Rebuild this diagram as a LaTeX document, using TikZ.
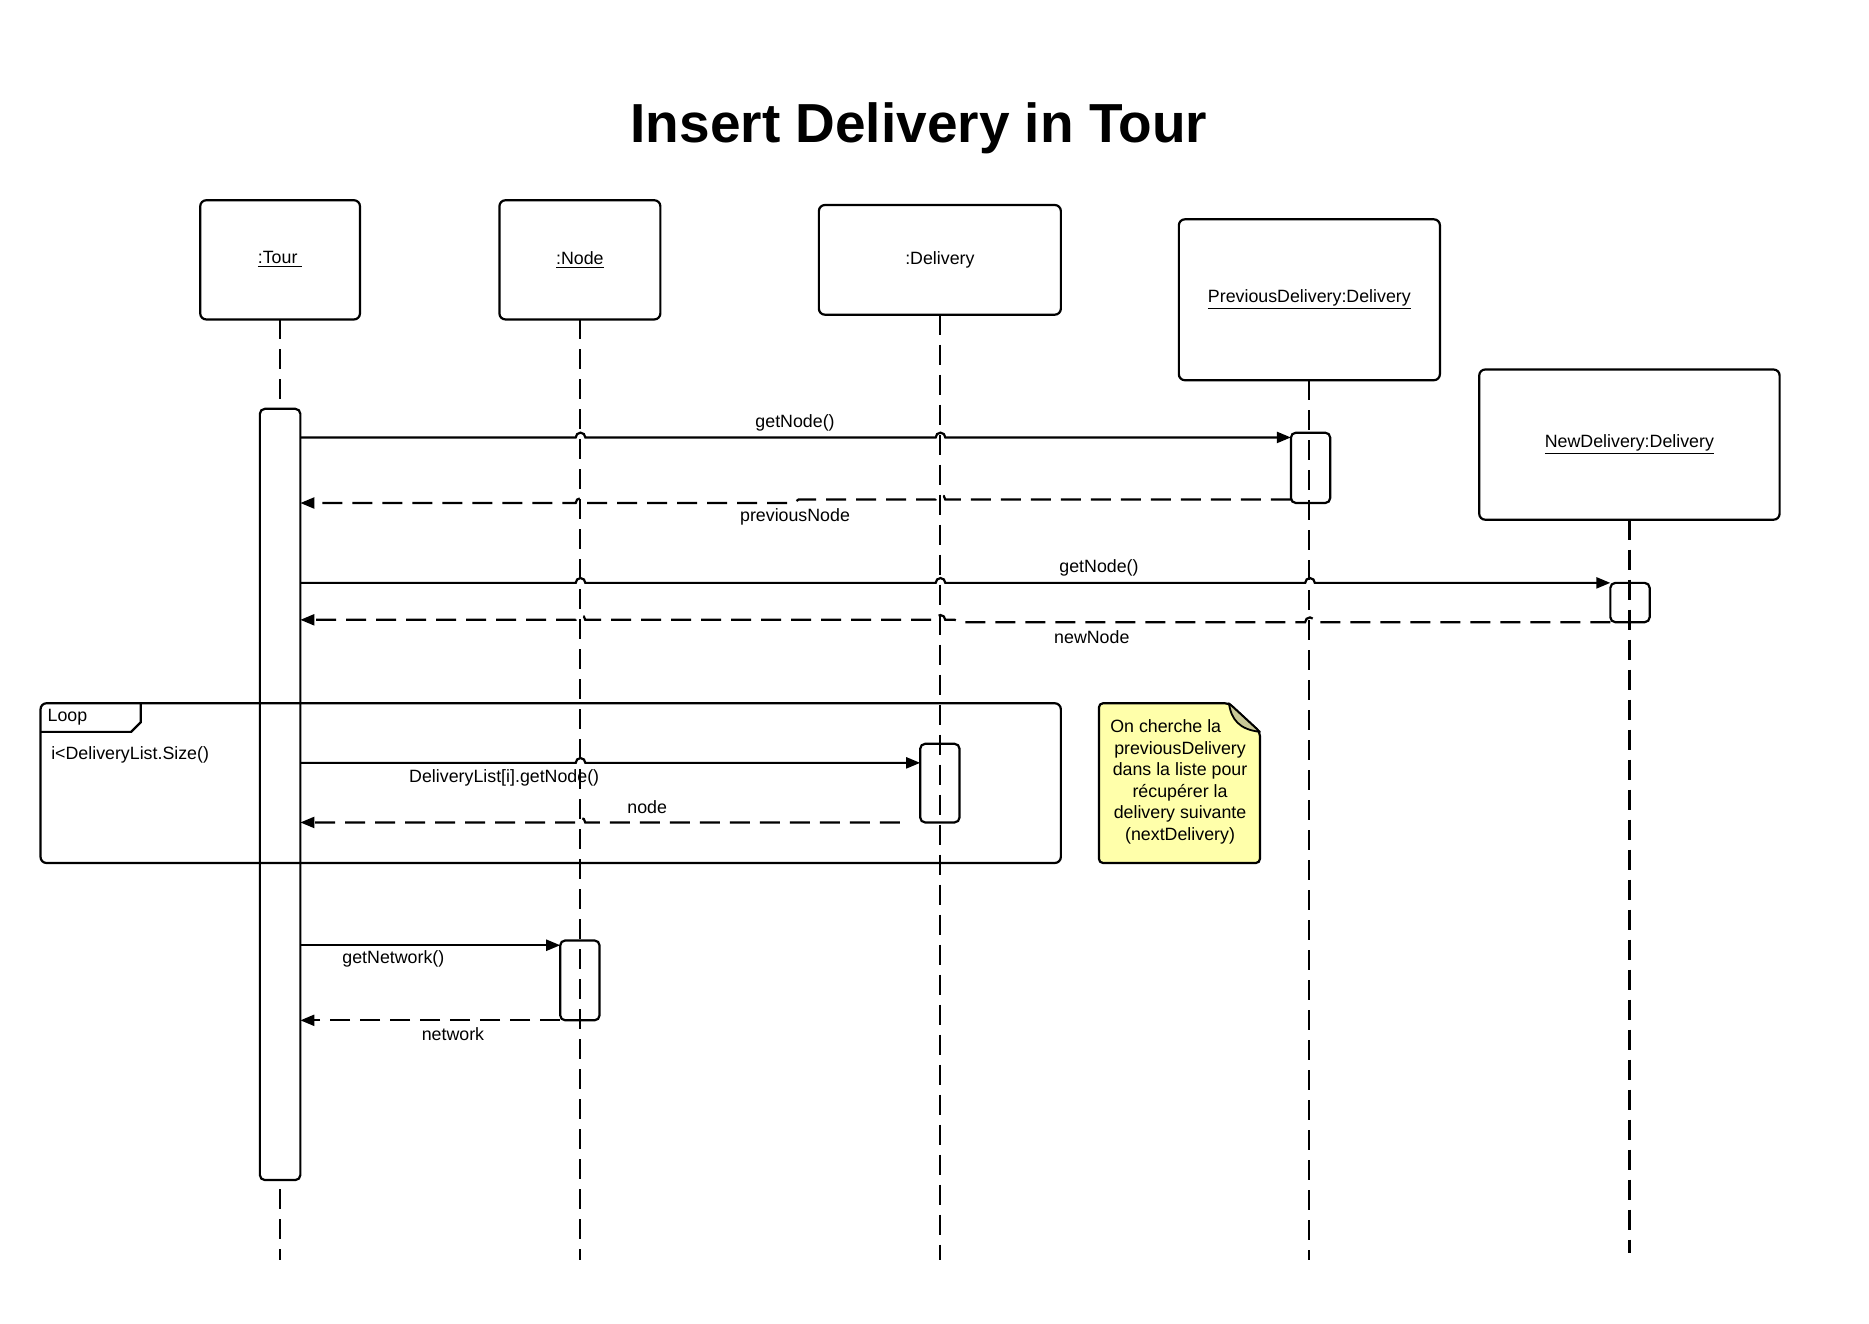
\documentclass[tikz,border=0pt]{standalone}
\usepackage{fontspec}
\setmainfont{Liberation Sans}
\usetikzlibrary{arrows.meta}
\newdimen\un \un=0.596pt
\newcommand\lblfont{\fontsize{8.9pt}{10.73pt}\selectfont}
\definecolor{notefill}{RGB}{255,255,170}
\definecolor{foldcol}{RGB}{200,200,150}
\tikzset{
  obj/.style={draw, line width=1.1pt, rounded corners=3pt, inner sep=0pt, outer sep=0pt, font=\lblfont, align=center},
  act/.style={draw, line width=1.1pt, rounded corners=2.5pt, inner sep=0pt, outer sep=0pt, minimum width=33*\un},
  life/.style={line width=1.1pt, dash pattern=on 10pt off 5pt},
  msg/.style={line width=1.1pt, -{Triangle[length=7pt,width=5.5pt]}},
  ret/.style={msg, dash pattern=on 10pt off 5pt},
  lbl/.style={font=\lblfont, inner sep=0pt, outer sep=0pt},
}
\begin{document}
\begin{tikzpicture}[x=0.596pt, y=-0.596pt]
\useasboundingbox (0,0) rectangle (1568,1110);
% title
\node[inner sep=0pt, font=\fontsize{27.5pt}{30pt}\selectfont\bfseries] (title) at (771,108) {Insert Delivery in Tour};
% objects
\node[obj, minimum width=134*\un, minimum height=100*\un] (tour) at (235,218) {\underline{:Tour\ }};
\node[obj, minimum width=135*\un, minimum height=100*\un] (node) at (486.5,218) {\underline{:Node}};
\node[obj, minimum width=203*\un, minimum height=92*\un] (deliv) at (788.5,218) {:Delivery};
\node[obj, minimum width=219*\un, minimum height=135*\un] (prev) at (1098.5,251.5) {\underline{PreviousDelivery:Delivery}};
\node[obj, minimum width=252*\un, minimum height=126*\un] (newd) at (1367,373) {\underline{NewDelivery:Delivery}};
% lifeline ends
\coordinate (bot) at (0,1057);
\coordinate (botn) at (0,1051);
\draw[life] (tour.south) -- (tour.south |- bot);
\draw[life] (node.south) -- (node.south |- bot);
\draw[life] (deliv.south) -- (deliv.south |- bot);
\draw[life] (prev.south) -- (prev.south |- bot);
\draw[life] (newd.south) -- (newd.south |- botn);
% activations
\node[act, fill=white, minimum width=34*\un, minimum height=647*\un] (tA) at (235,666.5) {};
\node[act, minimum height=59*\un] (pA) at (1099.5,392.5) {};
\node[act, minimum height=33*\un] (nA) at (1367.5,505.5) {};
\node[act, minimum height=66*\un] (dA) at (788.5,657) {};
\node[act, minimum height=67*\un] (noA) at (486.5,822.5) {};
% message levels
\coordinate (y1) at (0,367);
\coordinate (y2) at (0,419);
\coordinate (y2b) at (0,422);
\coordinate (y3) at (0,489);
\coordinate (y4) at (0,522);
\coordinate (y4b) at (0,520);
\coordinate (y5) at (0,640);
\coordinate (y6) at (0,690);
\coordinate (y7) at (0,793);
\coordinate (y8) at (0,856);
\coordinate (nodeRet) at (755,690);
% getNode() to PreviousDelivery
\draw[msg] (tA.east |- y1) -- (483,367) arc[start angle=180, end angle=0, radius=2.4pt]
  -- (785,367) arc[start angle=180, end angle=0, radius=2.4pt] -- (pA.west |- y1);
% previousNode
\draw[ret] (pA.west |- y2) -- (793,419) arc[start angle=0, end angle=180, radius=2.4pt]
  -- (670,419) -- (666,422) -- (491,422) arc[start angle=0, end angle=180, radius=2.4pt] -- (tA.east |- y2b);
% getNode() to NewDelivery
\draw[msg] (tA.east |- y3) -- (483,489) arc[start angle=180, end angle=0, radius=2.4pt]
  -- (785,489) arc[start angle=180, end angle=0, radius=2.4pt]
  -- (1095,489) arc[start angle=180, end angle=0, radius=2.4pt] -- (nA.west |- y3);
% newNode
\draw[ret] (nA.west |- y4) -- (1103,522) arc[start angle=0, end angle=180, radius=2.4pt]
  -- (806,522) -- (801,520) -- (793,520) arc[start angle=0, end angle=180, radius=2.4pt]
  -- (491,520) arc[start angle=0, end angle=180, radius=2.4pt] -- (tA.east |- y4b);
% loop frame
\draw[line width=1.1pt, rounded corners=3pt] (34,590) rectangle (890,724);
\draw[line width=1.1pt] (34,614) -- (110,614) -- (118,606) -- (118,590);
\node[lbl, anchor=west] (looplbl) at (40,601.5) {Loop};
\node[lbl, anchor=west] (guard) at (43,633.5) {i<DeliveryList.Size()};
% DeliveryList[i].getNode()
\draw[msg] (tA.east |- y5) -- (483,640) arc[start angle=180, end angle=0, radius=2.4pt] -- (dA.west |- y5);
% node
\draw[ret] (nodeRet) -- (491,690) arc[start angle=0, end angle=180, radius=2.4pt] -- (tA.east |- y6);
% getNetwork()
\draw[msg] (tA.east |- y7) -- (noA.west |- y7);
\draw[ret] (noA.west |- y8) -- (tA.east |- y8);
% labels
\node[lbl] (l1) at (667,354.5) {getNode()};
\node[lbl] (l2) at (667,433.5) {previousNode};
\node[lbl] (l3) at (922,476.5) {getNode()};
\node[lbl] (l4) at (916,534.5) {newNode};
\node[lbl] (l5) at (423,652.5) {DeliveryList[i].getNode()};
\node[lbl] (l6) at (543,677.5) {node};
\node[lbl] (l7) at (330,804.5) {getNetwork()};
\node[lbl] (l8) at (380,867.5) {network};
% note
\filldraw[fill=notefill, line width=1.1pt, rounded corners=2pt] (922,590) -- (1031,590) -- (1057,614) -- (1057,724) -- (922,724) -- cycle;
\filldraw[fill=foldcol, line width=0.9pt, line join=round] (1031,590) .. controls (1033,604) and (1040,612) .. (1057,614) -- cycle;
\node[lbl, align=center] (note) at (990,656) {On cherche la\hspace*{24\un}\\previousDelivery\\dans la liste pour\\récupérer la\\delivery suivante\\(nextDelivery)};
\end{tikzpicture}
\end{document}
